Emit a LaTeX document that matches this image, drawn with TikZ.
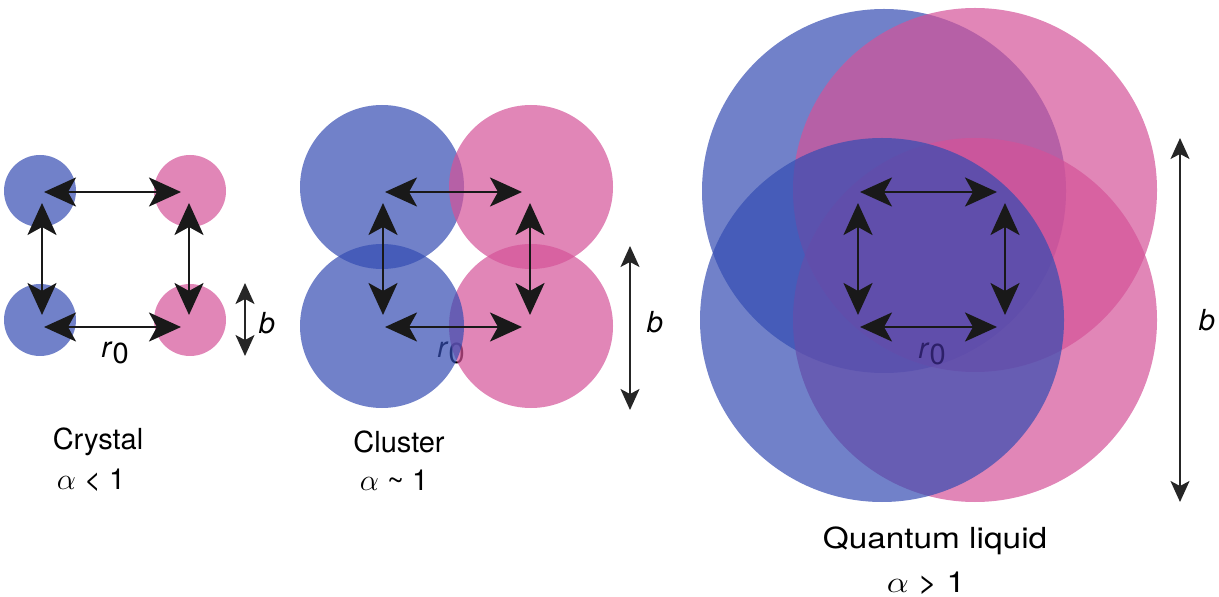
\documentclass[tikz,border=0pt]{standalone}
\usepackage{fontspec}
\setmainfont{TeX Gyre Heros}
\usetikzlibrary{arrows.meta,calc}

\definecolor{atomblue}{RGB}{52,76,178}
\definecolor{atompink}{RGB}{212,82,152}
\definecolor{deepink}{RGB}{45,32,105}

\tikzset{
  blueatom/.style={fill=atomblue, fill opacity=0.7},
  pinkatom/.style={fill=atompink, fill opacity=0.7},
  bond/.style={<->, >={Stealth[length=6.4mm,width=5.8mm,inset=1.6mm]}, line width=1.5pt, black!90},
  span/.style={<->, >={Stealth[length=4.2mm,width=3.8mm,inset=1mm]}, line width=0.9pt, black!85},
  lbl/.style={font=\fontsize{16.5}{20}\selectfont, inner sep=0pt},
}

\begin{document}
\begin{tikzpicture}[x=0.02cm, y=-0.02cm]
  \useasboundingbox (0,0) rectangle (1219,597);

  % spacing labels go under the clouds
  \node[lbl] (xtalr) at (115,353) {\textit{r}\raisebox{-0.4ex}{0}};
  \node[lbl] (clusr) at (451,353) {\textit{r}\raisebox{-0.4ex}{0}};

  % crystal
  \fill[blueatom] (40,191) circle (36);
  \fill[pinkatom] (190,191) circle (36);
  \fill[pinkatom] (190,320) circle (36);
  \fill[blueatom] (40,320) circle (36);

  % cluster
  \fill[blueatom] (382,187) circle (82);
  \fill[pinkatom] (531,187) circle (82);
  \fill[pinkatom] (531,326) circle (82);
  \fill[blueatom] (382,326) circle (82);

  % quantum liquid
  \fill[blueatom] (884,191) circle (182);
  \fill[pinkatom] (975,190) circle (182);
  \fill[pinkatom] (975,320) circle (182);
  \fill[blueatom] (882,320) circle (182);
  \node[lbl, text=deepink] (liqr) at (932,354) {\textit{r}\raisebox{-0.4ex}{0}};

  % r0 squares
  \coordinate (xtal) at (42,192);
  \coordinate (clus) at (383,192);
  \coordinate (liq) at (858,192);

  \draw[bond] ($(xtal)+(2,0)$) -- ++(137,0);
  \draw[bond] ($(xtal)+(2,135)$) -- ++(137,0);
  \draw[bond] ($(xtal)+(0,11)$) -- ++(0,112);
  \draw[bond] ($(xtal)+(147,11)$) -- ++(0,112);

  \draw[bond] ($(clus)+(2,0)$) -- ++(137,0);
  \draw[bond] ($(clus)+(2,135)$) -- ++(137,0);
  \draw[bond] ($(clus)+(0,11)$) -- ++(0,112);
  \draw[bond] ($(clus)+(147,11)$) -- ++(0,112);

  \draw[bond] ($(liq)+(2,0)$) -- ++(137,0);
  \draw[bond] ($(liq)+(2,135)$) -- ++(137,0);
  \draw[bond] ($(liq)+(0,11)$) -- ++(0,112);
  \draw[bond] ($(liq)+(147,11)$) -- ++(0,112);

  % b spans
  \coordinate (xtalbtop) at (245,283);
  \coordinate (xtalbbot) at (245,356);
  \coordinate (clusbtop) at (630,246);
  \coordinate (clusbbot) at (630,410);
  \coordinate (liqbtop) at (1180,138);
  \coordinate (liqbbot) at (1180,502);
  \draw[span] (xtalbtop) -- (xtalbbot);
  \draw[span] (clusbtop) -- (clusbbot);
  \draw[span] (liqbtop) -- (liqbbot);
  \node[lbl] (xtalb) at (267,323) {\textit{b}};
  \node[lbl] (clusb) at (655,322) {\textit{b}};
  \node[lbl] (liqb) at (1207,320) {\textit{b}};

  % phase names
  \node[lbl] (xtalname) at (98,442) {Crystal};
  \node[lbl] (xtalalpha) at (91,480) {$\alpha$ < 1};
  \node[lbl] (clusname) at (399,442) {Cluster};
  \node[lbl] (clusalpha) at (394,480) {$\alpha$ \textasciitilde{} 1};
  \node[lbl] (liqname) at (935,541) {\scalebox{1.15}[1]{Quantum liquid}};
  \node[lbl] (liqalpha) at (926,583) {\scalebox{1.15}[1]{$\alpha$ > 1}};
\end{tikzpicture}
\end{document}
